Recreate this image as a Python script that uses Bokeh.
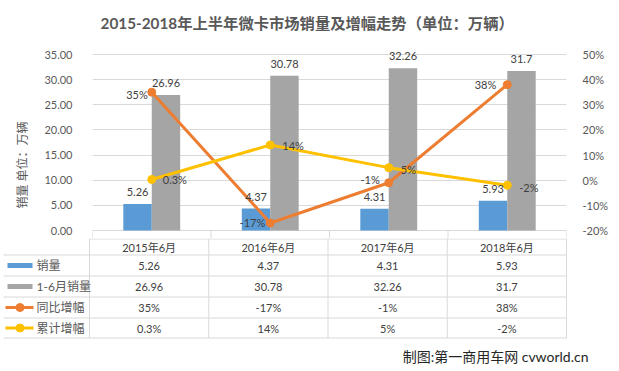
import numpy as np
from bokeh.plotting import figure
from bokeh.models import (ColumnDataSource, Range1d, LinearAxis, FixedTicker,
                          NumeralTickFormatter, PrintfTickFormatter, Label, Title)
from bokeh.layouts import column
from bokeh.embed import file_html
from bokeh.resources import INLINE
from bokeh.core.properties import value

# ---------------- data ----------------
categories = ["2015年6月", "2016年6月", "2017年6月", "2018年6月"]
monthly_sales = [5.26, 4.37, 4.31, 5.93]          # 销量 (万辆)
h1_sales = [26.96, 30.78, 32.26, 31.7]             # 1-6月销量 (万辆)
yoy_growth = [35, -17, -1, 38]                     # 同比增幅 (%)
cum_growth = [0.3, 14, 5, -2]                      # 累计增幅 (%)
left_ticks = [0, 5, 10, 15, 20, 25, 30, 35]
right_ticks = [-20, -10, 0, 10, 20, 30, 40, 50]
series_names = ["销量", "1-6月销量", "同比增幅", "累计增幅"]
title_text = "2015-2018年上半年微卡市场销量及增幅走势（单位：万辆）"
y_axis_title = "销量 单位：万辆"
credit_text = "制图:第一商用车网 cvworld.cn"

# ---------------- style / layout ----------------
FONT = "Lato, 'Noto Sans CJK SC', sans-serif"
BLUE, GRAY, ORANGE, YELLOW = "#5B9BD5", "#A5A5A5", "#ED7D31", "#FFC000"
GRID = "#D9D9D9"
AXIS_TXT = "#595959"
LABEL_TXT = "#404040"

W = 617
FRAME_L, FRAME_R = 89, 566     # px of plot area
CAT_PX = (FRAME_R - FRAME_L) / len(categories)
AX_TOP, AX_BOT = 54, 230       # px of top / bottom tick
F1_TOP, F1_BOT = 0, 238        # px of first figure
F2_BOT = 370

def to_x(px):
    return (px - FRAME_L) / CAT_PX

xc = np.arange(len(categories)) + 0.5

lo, hi = left_ticks[0], left_ticks[-1]
ppu = (AX_BOT - AX_TOP) / (hi - lo)
def to_y(px):
    return lo + (AX_BOT - px) / ppu
rlo, rhi = right_ticks[0], right_ticks[-1]
ppp = (AX_BOT - AX_TOP) / (rhi - rlo)
def to_r(px):
    return rlo + (AX_BOT - px) / ppp

p = figure(width=W, height=F1_BOT - F1_TOP,
           x_range=Range1d(0, len(categories)),
           y_range=Range1d(to_y(F1_BOT), to_y(F1_TOP)),
           x_axis_location=None, y_axis_location="left",
           min_border_left=FRAME_L, min_border_right=W - FRAME_R,
           min_border_top=0, min_border_bottom=0,
           output_backend="svg", toolbar_location=None)
p.frame_align = False
p.outline_line_color = None
p.background_fill_color = "white"
p.border_fill_color = "white"
p.extra_y_ranges = {"pct": Range1d(to_r(F1_BOT), to_r(F1_TOP))}

p.yaxis.ticker = FixedTicker(ticks=left_ticks)
p.yaxis.formatter = NumeralTickFormatter(format="0.00")
p.yaxis.axis_line_color = None
p.yaxis.major_tick_line_color = None
p.yaxis.minor_tick_line_color = None
p.yaxis.major_label_standoff = 14
p.yaxis.major_label_text_font = FONT
p.yaxis.major_label_text_font_size = "11px"
p.yaxis.major_label_text_color = AXIS_TXT

ra = LinearAxis(y_range_name="pct", ticker=FixedTicker(ticks=right_ticks),
                formatter=PrintfTickFormatter(format="%d%%"))
ra.axis_line_color = None
ra.major_tick_line_color = None
ra.minor_tick_line_color = None
ra.major_label_standoff = 10
ra.major_label_text_font = FONT
ra.major_label_text_font_size = "11px"
ra.major_label_text_color = AXIS_TXT
p.add_layout(ra, "right")

# vertical axis title: starts ~30px above the frame bottom and reads upwards
p.add_layout(Title(text=y_axis_title, align="left", offset=F1_BOT - 208,
                   text_font=FONT, text_font_size="12px", text_font_style="normal",
                   text_color=AXIS_TXT, standoff=24), "left")

p.ygrid.ticker = FixedTicker(ticks=left_ticks)
p.ygrid.grid_line_color = GRID
for g in p.xgrid:
    g.visible = False

nb = len(categories) + 1
p.segment(x0=list(range(nb)), y0=[lo] * nb, x1=list(range(nb)), y1=[to_y(F1_BOT)] * nb,
          line_color=GRID, line_width=1)

BW = 0.24
src = ColumnDataSource(dict(
    xb=xc - BW / 2, xg=xc + BW / 2, x=xc,
    m=monthly_sales, h=h1_sales, yoy=yoy_growth, cum=cum_growth,
    mt=[f"{v:g}" for v in monthly_sales], ht=[f"{v:g}" for v in h1_sales],
))
p.vbar(x="xb", width=BW, top="m", bottom=0, source=src, fill_color=BLUE, line_color=None)
p.vbar(x="xg", width=BW, top="h", bottom=0, source=src, fill_color=GRAY, line_color=None)

p.line("x", "yoy", source=src, y_range_name="pct", line_color=ORANGE, line_width=3)
p.scatter("x", "yoy", source=src, y_range_name="pct", marker="circle", size=8,
          fill_color=ORANGE, line_color=ORANGE)
p.line("x", "cum", source=src, y_range_name="pct", line_color=YELLOW, line_width=3)
p.scatter("x", "cum", source=src, y_range_name="pct", marker="circle", size=8,
          fill_color=YELLOW, line_color=YELLOW)

lab_kw = dict(text_font=value(FONT), text_font_size="11px", text_color=LABEL_TXT,
              text_baseline="middle")
p.text("xb", "m", text="mt", source=src, text_align="center", y_offset=-12, **lab_kw)
p.text("xg", "h", text="ht", source=src, text_align="center", y_offset=-12, **lab_kw)

yoy_src = ColumnDataSource(dict(x=xc, y=yoy_growth, t=[f"{v:g}%" for v in yoy_growth],
                                xo=[-4, -5, -9, -11], yo=[2, 0, -3, 0]))
p.text("x", "y", text="t", source=yoy_src, y_range_name="pct", text_align="right",
       x_offset="xo", y_offset="yo", **lab_kw)
cum_src = ColumnDataSource(dict(x=xc, y=cum_growth, t=[f"{v:g}%" for v in cum_growth],
                                xo=[11, 12, 12, 12], yo=[0, 0, 2, 2]))
p.text("x", "y", text="t", source=cum_src, y_range_name="pct", text_align="left",
       x_offset="xo", y_offset="yo", **lab_kw)

p.add_layout(Label(x=to_x(305), y=to_y(22), text=title_text,
                   text_align="center", text_baseline="middle", text_font=FONT,
                   text_font_size="15.3px", text_font_style="bold",
                   text_color=AXIS_TXT))

# ---------------- data table ----------------
t = figure(width=W, height=F2_BOT - F1_BOT,
           x_range=Range1d(to_x(0), to_x(W)),
           y_range=Range1d(F2_BOT, F1_BOT),
           x_axis_location=None, y_axis_location=None,
           min_border_left=0, min_border_right=0, min_border_top=0, min_border_bottom=0,
           output_backend="svg", toolbar_location=None)
t.frame_align = False
t.outline_line_color = None
t.grid.visible = False
t.background_fill_color = "white"
t.border_fill_color = "white"

HEAD_TOP = 238.5
ROW_LINES = [254.5, 275.5, 296.5, 317.5, 337.5]
HEAD_Y = 246.5
ROW_Y = [265, 286, 307, 327.5]
TABLE_BOT = ROW_LINES[-1]
CHART_L = 3

t.segment(x0=list(range(nb)), y0=[F1_BOT] * nb, x1=list(range(nb)), y1=[TABLE_BOT] * nb,
          line_color=GRID, line_width=1)
t.segment(x0=[0], y0=[HEAD_TOP], x1=[len(categories)], y1=[HEAD_TOP],
          line_color=GRID, line_width=1)
t.segment(x0=[to_x(CHART_L)] * len(ROW_LINES), y0=ROW_LINES,
          x1=[len(categories)] * len(ROW_LINES), y1=ROW_LINES,
          line_color=GRID, line_width=1)

tab_kw = dict(text_font=value(FONT), text_font_size="11px", text_color=LABEL_TXT,
              text_baseline="middle", text_align="center")
t.text(x=list(xc), y=[HEAD_Y] * len(categories), text=categories, **tab_kw)
rows = [[f"{v:g}" for v in monthly_sales], [f"{v:g}" for v in h1_sales],
        [f"{v:g}%" for v in yoy_growth], [f"{v:g}%" for v in cum_growth]]
for ry, vals in zip(ROW_Y, rows):
    t.text(x=list(xc), y=[ry] * len(vals), text=vals, **tab_kw)

# legend keys
t.quad(left=[to_x(7)], right=[to_x(32)], top=[ROW_Y[0] - 2.5], bottom=[ROW_Y[0] + 2.5],
       fill_color=BLUE, line_color=None)
t.quad(left=[to_x(7)], right=[to_x(32)], top=[ROW_Y[1] - 2.5], bottom=[ROW_Y[1] + 2.5],
       fill_color=GRAY, line_color=None)
for ry, c in [(ROW_Y[2], ORANGE), (ROW_Y[3], YELLOW)]:
    t.segment(x0=[to_x(5)], y0=[ry], x1=[to_x(33)], y1=[ry], line_color=c, line_width=3)
    t.scatter(x=[to_x(19.5)], y=[ry], marker="circle", size=8, fill_color=c, line_color=c)
t.text(x=[to_x(36)] * 4, y=ROW_Y, text=series_names, text_font=value(FONT),
       text_font_size="12px", text_color=AXIS_TXT, text_baseline="middle", text_align="left")

t.add_layout(Label(x=to_x(588), y=356, text=credit_text, text_align="right",
                   text_baseline="middle", text_font=FONT, text_font_size="14px",
                   text_color="#262626"))

layout = column(p, t, spacing=0,
                styles={"outline": "1px solid #D9D9D9", "outline-offset": "-3px"})
open("out.html", "w").write(file_html(layout, INLINE))
